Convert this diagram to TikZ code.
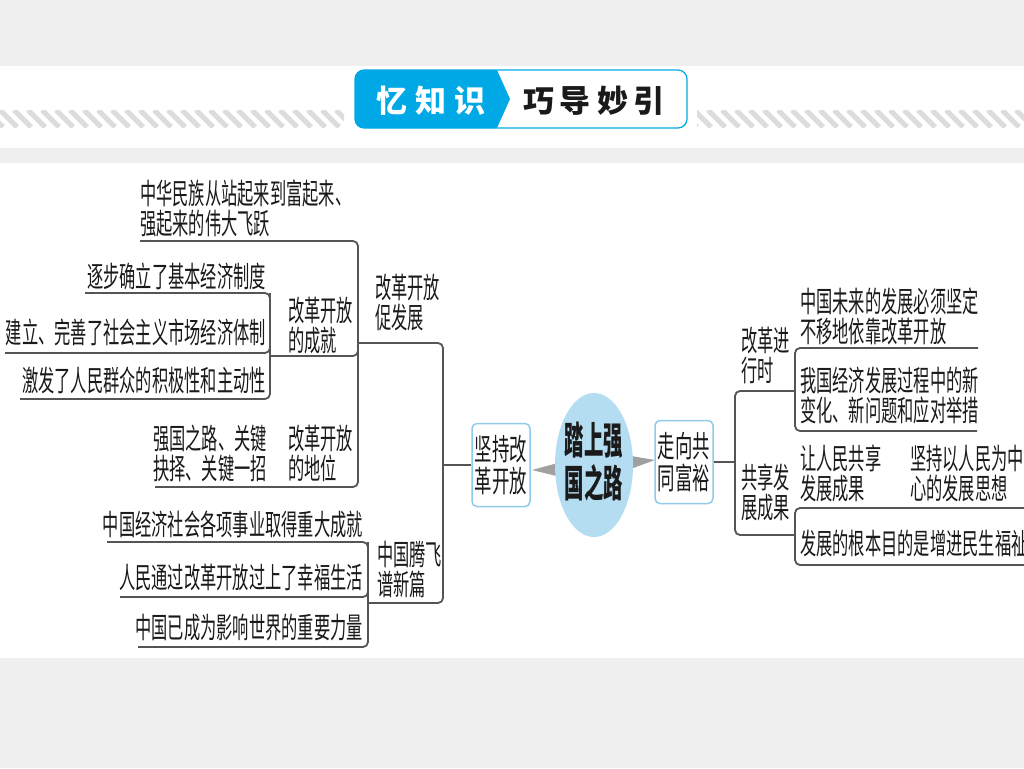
\documentclass[tikz,border=0pt]{standalone}
\usepackage{fontspec}
\setmainfont{Noto Sans CJK SC}[FakeStretch=0.56]
\newfontfamily\hdrfont{Noto Sans CJK SC}
\newfontfamily\boxfont{Noto Sans CJK SC}[FakeStretch=0.58]
\newfontfamily\ctrfont{Noto Sans CJK SC}[FakeStretch=0.51]
\definecolor{bgray}{HTML}{EFEFEF}
\definecolor{stripe}{HTML}{DCDCDC}
\definecolor{hblue}{HTML}{00A9E6}
\definecolor{ellc}{HTML}{B5DDF1}
\definecolor{boxb}{HTML}{8FCBEA}
\definecolor{lncol}{HTML}{555555}
\definecolor{arrc}{HTML}{A0A0A0}
\definecolor{txt}{HTML}{1A1A1A}
\begin{document}
\begin{tikzpicture}[x=1pt,y=-1pt,
  ln/.style={draw=lncol, line width=1.8pt, rounded corners=5pt},
  lbl/.style={inner sep=0pt, font=\fontsize{29}{30}\selectfont, text=txt, align=left},
  boxnode/.style={draw=boxb, line width=1.5pt, fill=white, rounded corners=5pt,
    minimum width=58pt, minimum height=83pt, inner sep=0pt, align=center,
    font=\boxfont\fontsize{30}{32}\selectfont, text=txt},
  hdr/.style={inner sep=0pt, font=\hdrfont\bfseries\fontsize{31}{31}\selectfont}
]
\useasboundingbox (0,0) rectangle (1024,768);
\clip (0,0) rectangle (1024,768);
% backgrounds
\fill[bgray] (0,0) rectangle (1024,768);
\fill[white] (0,66) rectangle (1024,148);
\fill[white] (0,163) rectangle (1024,658);
% stripes
\begin{scope}
  \clip (0,110) rectangle (344,127);
  \foreach \i in {-28,-14,...,360} \draw[stripe, line width=5pt] (\i,110) -- (\i+17,127);
\end{scope}
\begin{scope}
  \clip (697,110) rectangle (1024,127);
  \foreach \i in {680,694,...,1040} \draw[stripe, line width=5pt] (\i,110) -- (\i+17,127);
\end{scope}
% header
\fill[white, rounded corners=9pt] (355,70) rectangle (687,128);
\fill[hblue, rounded corners=9pt] (355,70) rectangle (480,128);
\fill[hblue] (470,70) -- (497,70) -- (510,99) -- (497,128) -- (470,128) -- cycle;
\draw[hblue, line width=1.2pt, rounded corners=9pt] (355,70) rectangle (687,128);
\node[hdr, text=white] (h1) at (431,101) {忆\hspace{8pt}知\hspace{8pt}识};
\node[hdr, text=txt] (h2) at (594,101) {巧\hspace{6pt}导\hspace{6pt}妙\hspace{6pt}引};

% center
\fill[arrc] (565,461) -- (565,478) -- (532,470) -- cycle;
\fill[arrc] (625,455) -- (625,471) -- (655,460) -- cycle;
\fill[ellc] (594,465) ellipse [x radius=39, y radius=72];
\node[inner sep=0pt, align=center, font=\ctrfont\bfseries\fontsize{38}{43}\selectfont, text=txt] (c) at (594,462) {踏上强\\国之路};
\node[boxnode] (bl) at (501,465) {坚持改\\革开放};
\node[boxnode] (br) at (684,462) {走向共\\同富裕};

% left labels
\node[lbl, anchor=south west] (n1) at (140,237) {中华民族从站起来到富起来、\\强起来的伟大飞跃};
\node[lbl, anchor=south east] (n2) at (266,290) {逐步确立了基本经济制度};
\node[lbl, anchor=south east] (n3) at (266,346) {建立、完善了社会主义市场经济体制};
\node[lbl, anchor=south east] (n4) at (266,394) {激发了人民群众的积极性和主动性};
\node[lbl, anchor=south west] (n5) at (288,354) {改革开放\\的成就};
\node[lbl, anchor=south west] (n6) at (375,331) {改革开放\\促发展};
\node[lbl, anchor=south west] (n7) at (153,482) {强国之路、关键\\抉择、关键一招};
\node[lbl, anchor=south west] (n8) at (288,482) {改革开放\\的地位};
\node[lbl, anchor=south west] (n9) at (377,598) {中国腾飞\\谱新篇};
\node[lbl, anchor=south east] (n10) at (363,538) {中国经济社会各项事业取得重大成就};
\node[lbl, anchor=south east] (n11) at (363,591) {人民通过改革开放过上了幸福生活};
\node[lbl, anchor=south east] (n12) at (363,641) {中国已成为影响世界的重要力量};

% right labels
\node[lbl, anchor=south west] (r1) at (741,384) {改革进\\行时};
\node[lbl, anchor=south west] (r2) at (800,345) {中国未来的发展必须坚定\\不移地依靠改革开放};
\node[lbl, anchor=south west] (r3) at (800,424) {我国经济发展过程中的新\\变化、新问题和应对举措};
\node[lbl, anchor=south west] (r4) at (741,521) {共享发\\展成果};
\node[lbl, anchor=south west] (r5) at (800,502) {让人民共享\\发展成果};
\node[lbl, anchor=south west] (r6) at (910,502) {坚持以人民为中\\心的发展思想};
\node[lbl, anchor=south west] (r7) at (800,557) {发展的根本目的是增进民生福祉};

% junction coordinates
\coordinate (jL) at (443,465);
\coordinate (A1) at (358,343);
\coordinate (B1) at (368,603);
\coordinate (P1) at (140,241);
\coordinate (P2) at (155,487);
\coordinate (Q1) at (270,356);
\coordinate (S1) at (85,293);
\coordinate (S2) at (20,399);
\coordinate (S3) at (5,353);
\coordinate (T1) at (107,542);
\coordinate (T2) at (138,647);
\coordinate (T3) at (120,597);
\coordinate (jR) at (735,465);
\coordinate (U1) at (795,391);
\coordinate (U2) at (795,535);
\coordinate (V1) at (978,348);
\coordinate (V2) at (977,431);
\coordinate (W1) at (1030,508);
\coordinate (W2) at (1030,565);

% left connectors
\draw[ln] (bl.west) -- (jL);
\draw[ln] (A1) -- (jL |- A1) -- (jL |- B1) -- (B1);
\draw[ln] (P1) -- (A1 |- P1) -- (A1 |- P2) -- (P2);
\draw[ln] (Q1) -- (A1 |- Q1) -- (A1);
\draw[ln] (S1) -- (Q1 |- S1) -- (Q1 |- S2) -- (S2);
\draw[ln] (S3) -- (Q1 |- S3) -- (Q1 |- S1);
\draw[ln] (T1) -- (B1 |- T1) -- (B1 |- T2) -- (T2);
\draw[ln] (T3) -- (B1 |- T3) -- (B1 |- T1);

% right connectors
\draw[ln] (br.east) -- (jR |- br.east);
\draw[ln] (U1) -- (jR |- U1) -- (jR |- U2) -- (U2);
\draw[ln] (V1) -- (U1 |- V1) -- (U1 |- V2) -- (V2);
\draw[ln] (W1) -- (U2 |- W1) -- (U2 |- W2) -- (W2);
\end{tikzpicture}
\end{document}
